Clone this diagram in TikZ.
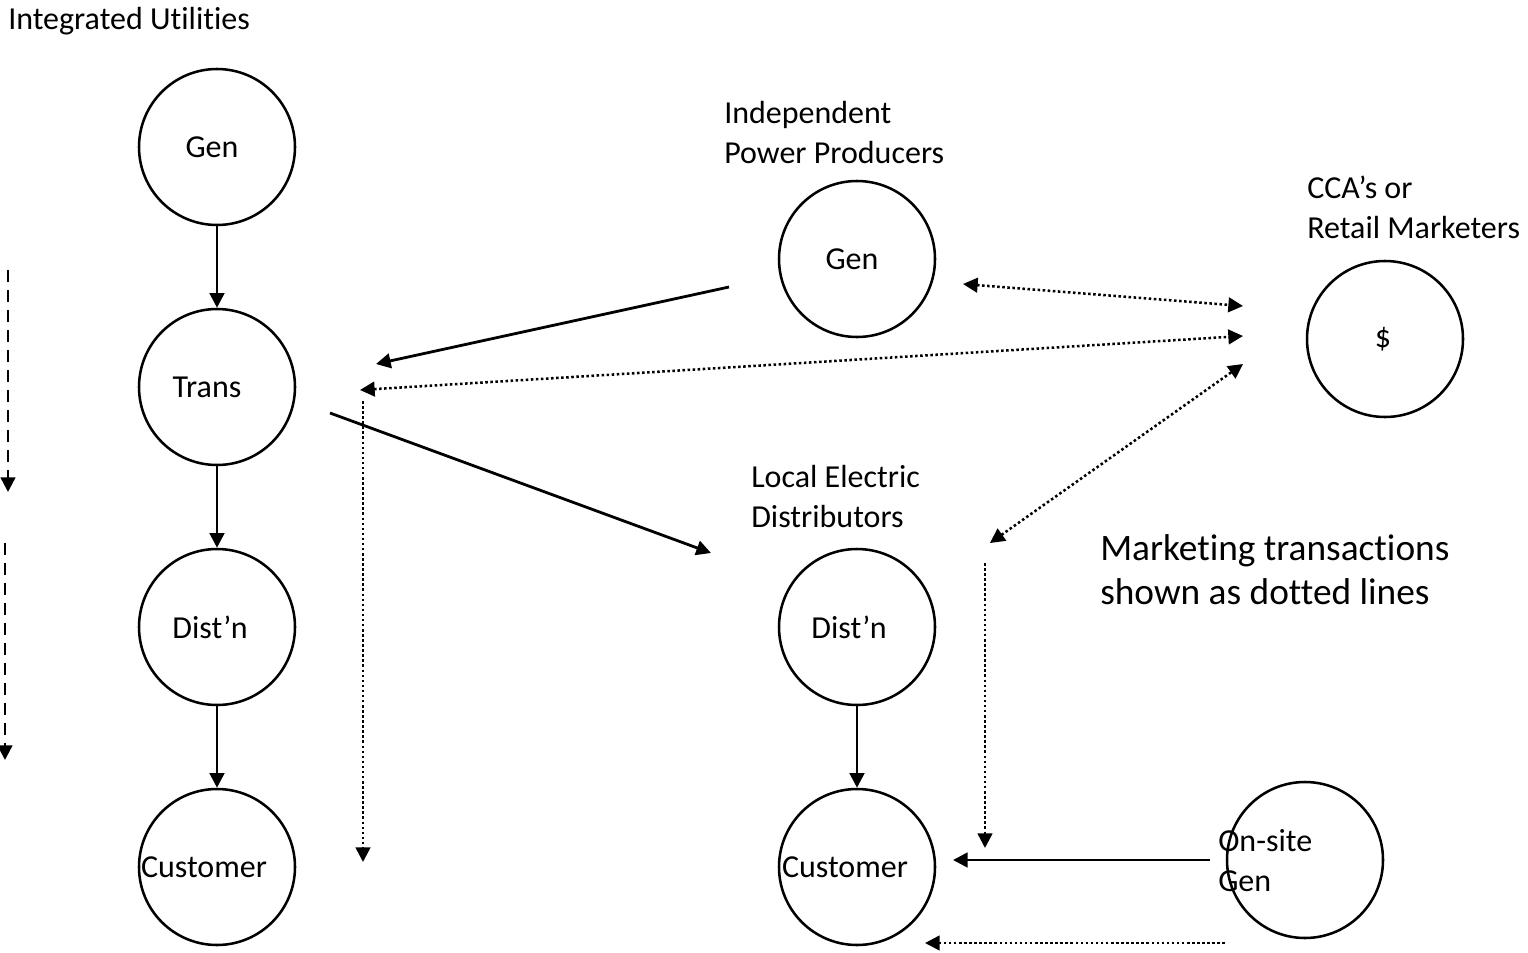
\documentclass[tikz,border=0pt]{standalone}
\usepackage{fontspec}
\setmainfont{Carlito}[Ligatures=NoCommon]
\usetikzlibrary{arrows.meta}
\begin{document}
\begin{tikzpicture}[x=0.75pt,y=-0.75pt,
  circ/.style={draw,circle,line width=1.9pt,minimum size=117pt,inner sep=0pt},
  lbl/.style={font=\fontsize{24}{30}\selectfont,inner sep=0pt},
  note/.style={font=\fontsize{24}{30}\selectfont,inner sep=0pt,align=left,anchor=west},
  big/.style={font=\fontsize{28}{33}\selectfont,inner sep=0pt,align=left,anchor=west},
  tip/.style={-{Triangle[length=11pt,width=11pt]}},
  dtip/.style={{Triangle[length=11pt,width=11pt]}-{Triangle[length=11pt,width=11pt]}},
  solidline/.style={line width=2.1pt},
  dotline/.style={line width=1.9pt,dash pattern=on 1.9pt off 1.9pt},
  dashline/.style={line width=1.8pt,dash pattern=on 9pt off 6pt}]
\useasboundingbox (0,0) rectangle (1528,953);
% circles
\node[circ] (g1) at (217,147) {};
\node[circ] (t1) at (217,387) {};
\node[circ] (d1) at (217,627) {};
\node[circ] (c1) at (217,867) {};
\node[circ] (g2) at (857,259) {};
\node[circ] (d2) at (857,627) {};
\node[circ] (c2) at (857,867) {};
\node[circ] (mk) at (1385,339) {};
\node[circ] (os) at (1305,860) {};
% circle texts
\node[lbl] (g1t) at (212,147) {Gen};
\node[lbl] (t1t) at (207,387) {Trans};
\node[lbl] (d1t) at (210,627) {Dist’n};
\node[lbl] (c1t) at (204,867) {Customer};
\node[lbl] (g2t) at (852,259) {Gen};
\node[lbl] (mkt) at (1383,339) {\$};
\node[lbl] (d2t) at (849,627) {Dist’n};
\node[lbl] (c2t) at (845,867) {Customer};
\node[note] (ost) at (1218,861) {On-site\\Gen};
% titles
\node[note] (iu) at (8,21) {Integrated Utilities};
\node[note] (ipp) at (724,133) {Independent\\Power Producers};
\node[note] (cca) at (1307,207) {CCA’s or\\Retail Marketers};
\node[note] (led) at (751,497) {Local Electric\\Distributors};
\node[big] (mtx) at (1100,570) {Marketing transactions\\shown as dotted lines};
% vertical solid arrows
\draw[solidline,tip] (g1) -- (t1);
\draw[solidline,tip] (t1) -- (d1);
\draw[solidline,tip] (d1) -- (c1);
\draw[solidline,tip] (d2) -- (c2);
% coordinates
\coordinate (a1s) at (729,287); \coordinate (a1e) at (376,364);
\coordinate (a2s) at (330,413); \coordinate (a2e) at (711,553);
\coordinate (b1s) at (360,390); \coordinate (b1e) at (1243,336);
\coordinate (b2s) at (963,284); \coordinate (b2e) at (1243,306);
\coordinate (b3s) at (990,543); \coordinate (b3e) at (1243,364);
\coordinate (v1s) at (363,401); \coordinate (v1e) at (363,862);
\coordinate (v2s) at (985,563); \coordinate (v2e) at (985,848);
\coordinate (h1s) at (1210,860); \coordinate (h1e) at (953,860);
\coordinate (h2s) at (1225,943); \coordinate (h2e) at (925,943);
\coordinate (k1s) at (8,270); \coordinate (k1e) at (8,492);
\coordinate (k2s) at (5,543); \coordinate (k2e) at (5,760);
\draw[solidline,tip] (a1s) -- (a1e);
\draw[solidline,tip] (a2s) -- (a2e);
\draw[solidline,tip] (h1s) -- (h1e);
\draw[dotline,dtip] (b1s) -- (b1e);
\draw[dotline,dtip] (b2s) -- (b2e);
\draw[dotline,dtip] (b3s) -- (b3e);
\draw[dotline,tip] (v1s) -- (v1e);
\draw[dotline,tip] (v2s) -- (v2e);
\draw[dotline,tip] (h2s) -- (h2e);
\draw[dashline,tip] (k1s) -- (k1e);
\draw[dashline,tip] (k2s) -- (k2e);
\end{tikzpicture}
\end{document}
